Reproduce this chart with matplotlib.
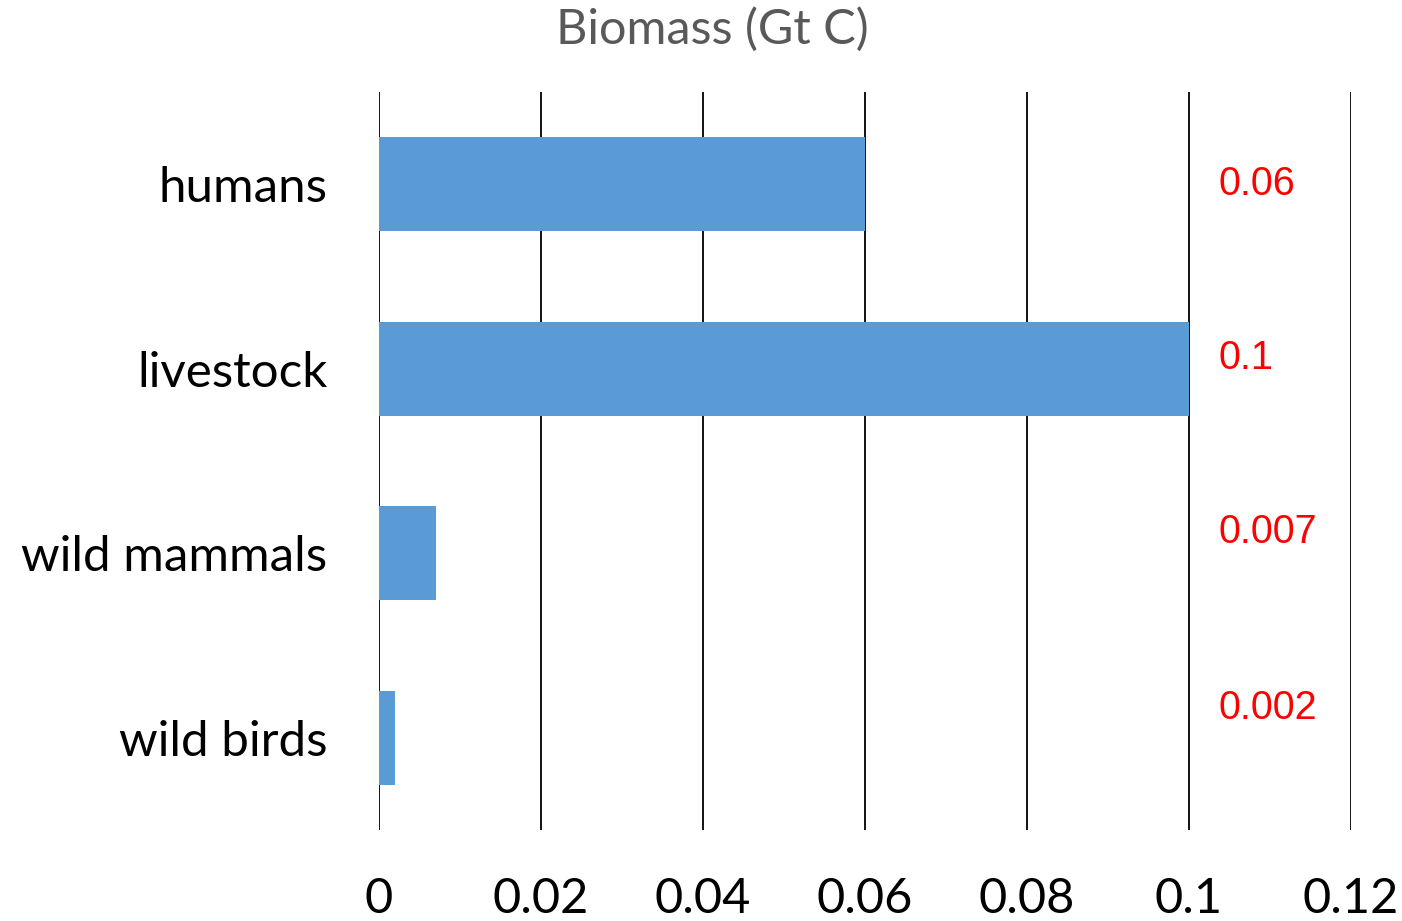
import matplotlib
matplotlib.use("Agg")
import matplotlib.pyplot as plt

categories = ["humans", "livestock", "wild mammals", "wild birds"]
biomass = [0.06, 0.1, 0.007, 0.002]
value_labels = ["0.06", "0.1", "0.007", "0.002"]
x_ticks = [0, 0.02, 0.04, 0.06, 0.08, 0.1, 0.12]
x_tick_labels = ["0", "0.02", "0.04", "0.06", "0.08", "0.1", "0.12"]

fig = plt.figure(figsize=(14.02, 9.21), dpi=100)
ax = fig.add_axes([0.2703, 0.0988, 0.6933, 0.8013])

ypos = list(range(len(categories)))
ax.barh(ypos, biomass, height=0.51, color="#5B9BD5", zorder=2)

ax.set_xlim(0, 0.12)
ax.set_ylim(3.5, -0.5)
ax.set_xticks(x_ticks)
ax.set_xticklabels(x_tick_labels, fontfamily="Lato", fontsize=35)
ax.set_yticks(ypos)
ax.set_yticklabels(categories, fontfamily="Lato", fontsize=35.5)
ax.tick_params(axis="x", length=0, pad=34, colors="black")
ax.tick_params(axis="y", length=0, pad=37, colors="black")

for s in ax.spines.values():
    s.set_visible(False)
ax.grid(axis="x", color="black", linewidth=1.3, zorder=1)
ax.grid(axis="y", visible=False)

# value annotations in the right-hand column
label_offsets = [0.0, -0.06, -0.115, -0.16]
for i, (txt, off) in enumerate(zip(value_labels, label_offsets)):
    ax.text(0.1037, i + off, txt, color="#FF0000", fontfamily="Liberation Sans",
            fontsize=28.5, va="center", ha="left", zorder=3)

fig.text(0.508, 1 - 29 / 921, "Biomass (Gt C)", color="#595959",
         fontfamily="Lato", fontsize=35, ha="center", va="center")

fig.savefig("out.png", dpi=100)
